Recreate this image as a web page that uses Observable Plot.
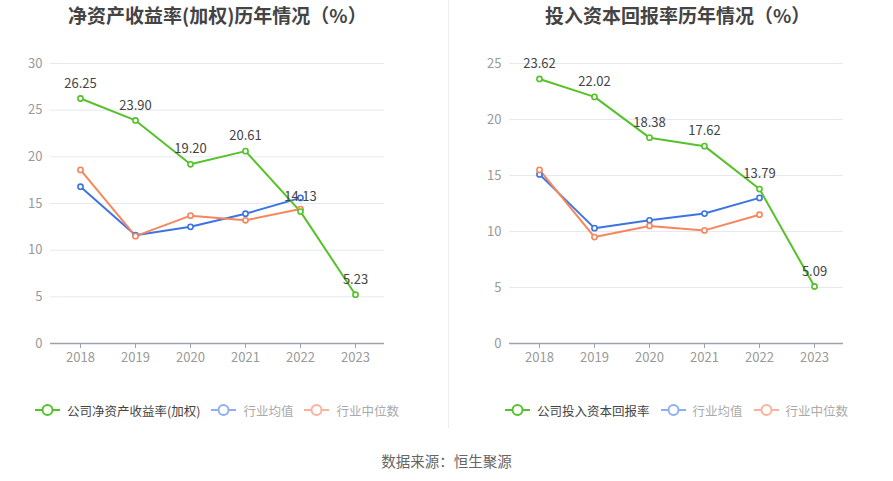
<!DOCTYPE html>
<html>
<head>
<meta charset="utf-8">
<script src="https://cdn.jsdelivr.net/npm/d3@7"></script>
<script src="https://cdn.jsdelivr.net/npm/@observablehq/plot@0.6"></script>
<style>
  html, body { margin: 0; padding: 0; background: #fff; }
  body { font-family: "Noto Sans CJK SC", "Noto Sans", sans-serif; }
  #wrap { position: relative; width: 893px; height: 481px; overflow: hidden; }
  .title { position: absolute; top: 2px; font-size: 19px; font-weight: bold; color: #444; white-space: nowrap; line-height: 26px; }
  .panel { position: absolute; top: 0; }
  .divider { position: absolute; left: 448px; top: 0; width: 1px; height: 428px; background: #eeeeee; }
  .legend { position: absolute; top: 400px; height: 20px; display: flex; align-items: center; font-size: 12.5px; white-space: nowrap; }
  .legend .item { display: flex; align-items: center; margin-right: 11px; }
  .legend svg { margin-right: 7px; }
  .caption { position: absolute; top: 450px; left: 0; width: 893px; text-align: center; font-size: 14.5px; color: #666; }
</style>
</head>
<body>
<div id="wrap">
  <div class="title" style="left:68px">净资产收益率(加权)历年情况（%）</div>
  <div class="title" style="left:545px">投入资本回报率历年情况（%）</div>
  <div class="divider"></div>
  <div id="left" class="panel" style="left:0px"></div>
  <div id="right" class="panel" style="left:447px"></div>
  <div id="legendLeft" class="legend" style="left:35px"></div>
  <div id="legendRight" class="legend" style="left:505px"></div>
  <div class="caption">数据来源：恒生聚源</div>
</div>
<script>
// ---- data ----
const years = ["2018", "2019", "2020", "2021", "2022", "2023"];
const industryYears = ["2018", "2019", "2020", "2021", "2022"];

const roeCompany = [26.25, 23.90, 19.20, 20.61, 14.13, 5.23];
const roeIndustryMean = [16.8, 11.6, 12.5, 13.9, 15.6];
const roeIndustryMedian = [18.6, 11.5, 13.7, 13.2, 14.4];

const roicCompany = [23.62, 22.02, 18.38, 17.62, 13.79, 5.09];
const roicIndustryMean = [15.1, 10.3, 11.0, 11.6, 13.0];
const roicIndustryMedian = [15.5, 9.5, 10.5, 10.1, 11.5];

const roeTicks = [0, 5, 10, 15, 20, 25, 30];
const roicTicks = [0, 5, 10, 15, 20, 25];

const seriesNamesLeft = ["公司净资产收益率(加权)", "行业均值", "行业中位数"];
const seriesNamesRight = ["公司投入资本回报率", "行业均值", "行业中位数"];

const GREEN = "#55c22a", BLUE = "#3d74e2", ORANGE = "#f7865c";

function toRows(xs, vs) { return xs.map((x, i) => ({ year: x, value: vs[i] })); }

function makeChart(company, mean, median, ticks, yMax, mLeft, mRight) {
  const c = toRows(years, company);
  const m = toRows(industryYears, mean);
  const d = toRows(industryYears, median);
  const font = "Noto Sans CJK SC, Noto Sans, sans-serif";
  return Plot.plot({
    width: 446,
    height: 380,
    marginTop: 63,
    marginBottom: 37,
    marginLeft: mLeft,
    marginRight: mRight,
    style: { fontFamily: font, fontSize: "13px", background: "transparent", overflow: "visible" },
    x: { type: "point", domain: years, padding: 0.5, label: null },
    y: { domain: [0, yMax], ticks: ticks, label: null },
    marks: [
      Plot.gridY(ticks.filter(t => t > 0), { stroke: "#e6e9f1", strokeOpacity: 1 }),
      Plot.axisY(ticks, { tickSize: 0, tickPadding: 8, fill: "#999", fontSize: 13, label: null }),
      Plot.axisX(years, { tickSize: 5, tickPadding: 4, stroke: "#9ea2ac", fill: "#999", fontSize: 13, label: null }),
      Plot.ruleY([0], { stroke: "#9ea2ac", strokeWidth: 1.5 }),
      Plot.line(m, { x: "year", y: "value", stroke: BLUE, strokeWidth: 2 }),
      Plot.line(d, { x: "year", y: "value", stroke: ORANGE, strokeWidth: 2 }),
      Plot.line(c, { x: "year", y: "value", stroke: GREEN, strokeWidth: 2 }),
      Plot.dot(m, { x: "year", y: "value", r: 2.6, fill: "white", stroke: BLUE, strokeWidth: 1.6 }),
      Plot.dot(d, { x: "year", y: "value", r: 2.6, fill: "white", stroke: ORANGE, strokeWidth: 1.6 }),
      Plot.dot(c, { x: "year", y: "value", r: 2.6, fill: "white", stroke: GREEN, strokeWidth: 1.6 }),
      Plot.text(c, { x: "year", y: "value", text: v => v.value.toFixed(2), dy: -15, fill: "#444", fontSize: 13 })
    ]
  });
}

document.getElementById("left").appendChild(
  makeChart(roeCompany, roeIndustryMean, roeIndustryMedian, roeTicks, 30, 50, 62));
document.getElementById("right").appendChild(
  makeChart(roicCompany, roicIndustryMean, roicIndustryMedian, roicTicks, 25, 62, 50));

function legend(el, names) {
  const styles = [
    { stroke: GREEN, text: "#444" },
    { stroke: "#8eaff0", text: "#aaa" },
    { stroke: "#f9b39c", text: "#aaa" }
  ];
  names.forEach((n, i) => {
    const s = styles[i];
    const item = document.createElement("div");
    item.className = "item";
    item.innerHTML =
      `<svg width="25" height="14"><line x1="0" x2="25" y1="7" y2="7" stroke="${s.stroke}" stroke-width="2"/>` +
      `<circle cx="12.5" cy="7" r="5" fill="white" stroke="${s.stroke}" stroke-width="2"/></svg>` +
      `<span style="color:${s.text}">${n}</span>`;
    el.appendChild(item);
  });
}
legend(document.getElementById("legendLeft"), seriesNamesLeft);
legend(document.getElementById("legendRight"), seriesNamesRight);
</script>
</body>
</html>
